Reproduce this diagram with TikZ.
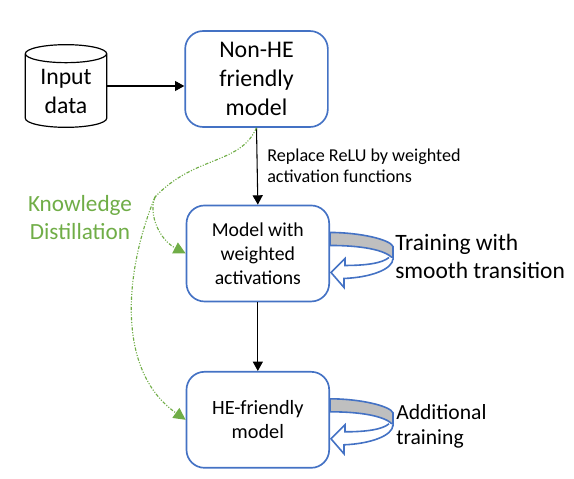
\documentclass[tikz,border=0pt]{standalone}
\usepackage{fontspec}
\setmainfont{Carlito}
\usetikzlibrary{arrows.meta,positioning,shapes.geometric}
\definecolor{BoxBlue}{HTML}{4472C4}
\definecolor{KdGreen}{HTML}{70AD47}
\definecolor{BandGray}{HTML}{BFBFBF}
\tikzset{
  modelbox/.style={rounded corners=13.5pt, draw=BoxBlue, line width=1.25pt, align=center, minimum width=107pt, minimum height=72pt, inner sep=2pt},
  datastore/.style={cylinder, shape border rotate=90, aspect=0.45, draw=black, line width=0.9pt, minimum width=61pt, minimum height=62pt, inner sep=0pt},
  arrow/.style={-{Triangle[length=7pt, width=7.5pt]}, line width=0.8pt, draw=black},
  kd/.style={-{Triangle[length=9pt, width=9pt]}, line width=0.85pt, draw=KdGreen, dash pattern=on 2.5pt off 1.2pt on 0.8pt off 1.2pt on 0.8pt off 1.2pt},
  note/.style={align=left, anchor=west, inner sep=0pt},
  looparrow/.pic={
    \draw[draw=BoxBlue, line width=1.2pt, fill=BandGray] (0,-21) .. controls (30,-21) and (60,-14) .. (63,-7) -- (63,5) .. controls (55,-4) and (30,-8) .. (0,-8) -- cycle;
    \draw[draw=BoxBlue, line width=1.2pt, fill=white, line join=miter] (63,5) .. controls (63,16) and (40,24) .. (14,25) -- (14,34) -- (1,19) -- (15,5) -- (15,12) .. controls (35,12) and (52,10) .. (59,4);
  }
}
\begin{document}
\begin{tikzpicture}[x=0.75pt, y=-0.75pt, font=\fontsize{14.8pt}{18pt}\selectfont]
    \useasboundingbox (0,0) rectangle (574,478);
    \node[modelbox, font=\fontsize{17.9pt}{21.8pt}\selectfont] (nonhe) at (256.5,79) {Non-HE\\friendly\\model};
    \node[modelbox, below=57.6pt of nonhe, xshift=1pt] (weighted) {Model with\\weighted\\activations};
    \node[modelbox, below=51.5pt of weighted, font=\fontsize{15.2pt}{18pt}\selectfont] (hefriendly) {HE-friendly\\model};
    \node[datastore, anchor=shape center] (input) at (66,86) {\rule{30pt}{0pt}\rule{0pt}{12pt}};
    \node[align=center, inner sep=0pt, font=\fontsize{17.8pt}{22pt}\selectfont] (inputtext) at (66,91.5) {Input\\data};

    \node[note, font=\fontsize{13.6pt}{15.6pt}\selectfont] (replace) at (267,165.5) {Replace ReLU by weighted\\activation functions};
    \node[align=center, text=KdGreen, inner sep=0pt, font=\fontsize{17.4pt}{21pt}\selectfont] (kdlabel) at (80,218) {Knowledge\\Distillation};
    \node[note, font=\fontsize{17.6pt}{21pt}\selectfont] (smooth) at (395,256) {Training with\\smooth transition};
    \node[note, font=\fontsize{16.2pt}{18.8pt}\selectfont] (additional) at (396,426) {Additional\\training};

    \coordinate (branch) at (155,197);

    \draw[arrow] (input.east |- input.shape center) -- (input.shape center -| nonhe.west);
    \draw[arrow] (nonhe.south) -- (weighted.north);
    \draw[arrow] (weighted.south) -- (hefriendly.north);
    \draw[kd, -] (nonhe.south) .. controls (240,165) and (195,155) .. (branch);
    \draw[kd] (branch) .. controls (148,215) and (160,240) .. (weighted.west);
    \draw[kd] (branch) .. controls (125,270) and (115,370) .. (hefriendly.west);

    \pic at (weighted.east) {looparrow};
    \pic at (hefriendly.east) {looparrow};
  \end{tikzpicture}
\end{document}
